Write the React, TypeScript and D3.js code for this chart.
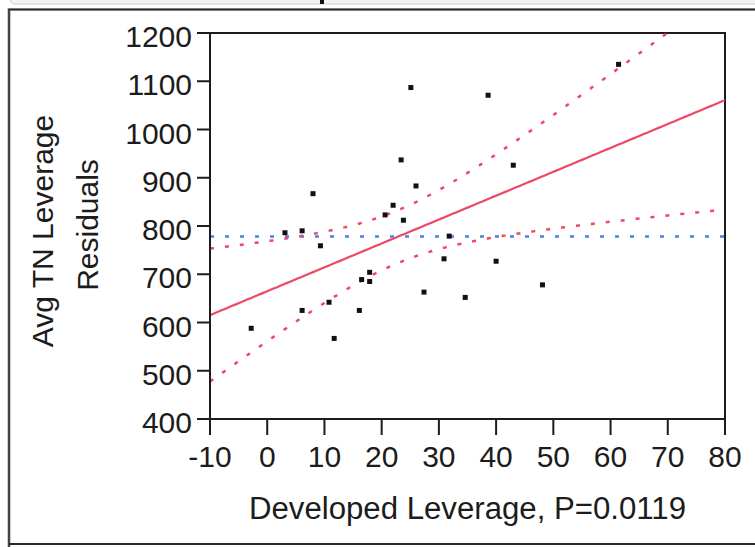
import * as d3 from 'd3';

// Leverage plot values
const developedLeverage = [
  -2.8, 6.1, 11.7, 10.8, 16.1, 16.5, 17.9, 17.9, 9.3, 3.1, 6.1, 20.6, 22.0, 23.8,
  27.4, 31.8, 30.9, 34.6, 40.0, 48.1, 25.1, 38.6, 61.4, 23.4, 43.0, 8.0, 26.0,
];
const avgTnResiduals = [
  588, 625, 567, 642, 625, 689, 704, 685, 759, 786, 790, 823, 843, 812,
  663, 779, 732, 652, 727, 678, 1087, 1071, 1135, 937, 926, 867, 883,
];

const xTicks = [-10, 0, 10, 20, 30, 40, 50, 60, 70, 80];
const yTicks = [400, 500, 600, 700, 800, 900, 1000, 1100, 1200];

// fit
const fitSlope = 4.95;
const meanResidual = 778;
const ciBase = 3000; // variance term at the mean
const ciSlope = 14.8; // growth with distance from the mean

const W = 755;
const H = 547;
const plot = { left: 210, right: 725, top: 33, bottom: 419 };
const ink = '#1c1c1c';
const red = '#ef4862';
const blue = '#4a7ef2';
const font = '"Liberation Sans", Arial, sans-serif';

export default function App() {
  const x = d3.scaleLinear().domain([-10, 80]).range([plot.left, plot.right]);
  const y = d3.scaleLinear().domain([400, 1200]).range([plot.bottom, plot.top]);

  const xMean = d3.mean(developedLeverage) as number;
  const fit = (v: number) => meanResidual + fitSlope * (v - xMean);
  const halfWidth = (v: number) => Math.sqrt(ciBase + ciSlope * (v - xMean) ** 2);

  const grid = d3.range(-10, 80.01, 0.5);
  const line = d3
    .line<number>()
    .x((v) => x(v))
    .y((v) => y(fit(v)));
  const upper = d3
    .line<number>()
    .x((v) => x(v))
    .y((v) => y(fit(v) + halfWidth(v)));
  const lower = d3
    .line<number>()
    .x((v) => x(v))
    .y((v) => y(fit(v) - halfWidth(v)));

  const points = developedLeverage.map((v, i) => ({ v, r: avgTnResiduals[i] }));

  return (
    <div style={{ position: 'absolute', left: 0, top: 0 }}>
      <svg width={W} height={H} style={{ display: 'block', background: '#fff' }}>
        <defs>
          <clipPath id="plot-clip">
            <rect
              x={plot.left}
              y={plot.top}
              width={plot.right - plot.left}
              height={plot.bottom - plot.top}
            />
          </clipPath>
        </defs>

        {/* remnant of the window above */}
        <rect x={10} y={-6} width={760} height={10} rx={5} fill="#f4f4f4" stroke="#cfcfcf" />
        <rect x={320} y={0} width={4} height={4} fill="#111" />

        {/* outer frame */}
        <path d={`M9,${H + 5}V9.5H${W + 5}`} fill="none" stroke="#9a9a9a" strokeWidth={3} />
        <path d={`M9,${H + 5}V9.5H${W + 5}`} fill="none" stroke="#2a2a2a" strokeWidth={1.5} />
        <line x1={9} x2={W + 5} y1={544} y2={544} stroke="#2a2a2a" strokeWidth={2} />

        {/* plot box */}
        <path
          d={`M${plot.left},${plot.top}H${plot.right}V${plot.bottom}`}
          fill="none"
          stroke={ink}
          strokeWidth={2}
        />

        <g clipPath="url(#plot-clip)" fill="none">
          <line
            x1={x(-10)}
            x2={x(80)}
            y1={y(meanResidual)}
            y2={y(meanResidual)}
            stroke={blue}
            strokeWidth={2.5}
            strokeDasharray="4 11"
          />
          <path d={upper(grid) || ''} stroke={red} strokeWidth={2.5} strokeDasharray="4 11" />
          <path d={lower(grid) || ''} stroke={red} strokeWidth={2.5} strokeDasharray="4 11" />
          <path d={line(grid) || ''} stroke={red} strokeWidth={2.2} />
        </g>

        {points.map((p, i) => (
          <rect key={i} x={x(p.v) - 2.5} y={y(p.r) - 2.5} width={5} height={5} fill="#111" />
        ))}

        {/* y axis */}
        <line x1={plot.left} x2={plot.left} y1={plot.top} y2={plot.bottom + 16} stroke={ink} strokeWidth={2} />
        {yTicks.map((t) => (
          <g key={t}>
            <line x1={plot.left - 13} x2={plot.left} y1={y(t)} y2={y(t)} stroke={ink} strokeWidth={2} />
            <text
              x={plot.left - 18}
              y={y(t) + 14}
              textAnchor="end"
              fontFamily={font}
              fontSize={30}
              fill={ink}
            >
              {t}
            </text>
          </g>
        ))}

        {/* x axis */}
        <line x1={plot.left - 13} x2={plot.right} y1={plot.bottom} y2={plot.bottom} stroke={ink} strokeWidth={2} />
        {xTicks.map((t) => (
          <g key={t}>
            <line x1={x(t)} x2={x(t)} y1={plot.bottom} y2={plot.bottom + 16} stroke={ink} strokeWidth={2} />
            <text
              x={x(t)}
              y={plot.bottom + 48}
              textAnchor="middle"
              fontFamily={font}
              fontSize={30}
              fill={ink}
            >
              {t}
            </text>
          </g>
        ))}

        <text
          x={(plot.left + plot.right) / 2}
          y={519}
          textAnchor="middle"
          fontFamily={font}
          fontSize={31}
          fill={ink}
          textLength={437}
          lengthAdjust="spacingAndGlyphs"
        >
          Developed Leverage, P=0.0119
        </text>

        <text
          transform="translate(53,231) rotate(-90)"
          textAnchor="middle"
          fontFamily={font}
          fontSize={30}
          fill={ink}
        >
          Avg TN Leverage
        </text>
        <text
          transform="translate(98,225) rotate(-90)"
          textAnchor="middle"
          fontFamily={font}
          fontSize={30}
          fill={ink}
        >
          Residuals
        </text>
      </svg>
    </div>
  );
}
